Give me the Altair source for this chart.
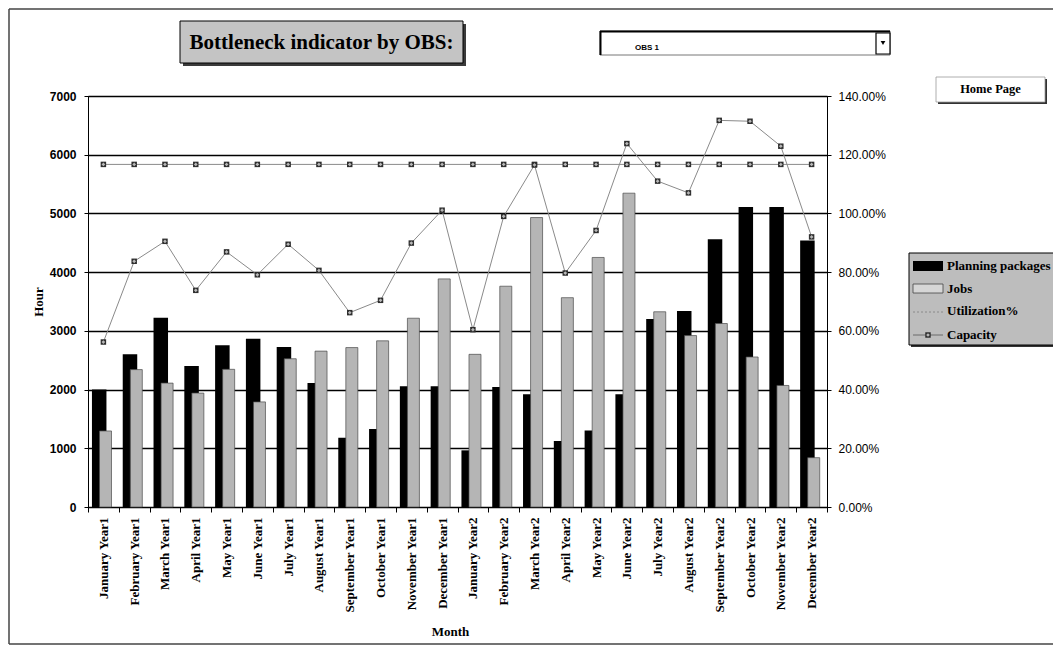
import altair as alt
import pandas as pd

months = ["January Year1", "February Year1", "March Year1", "April Year1", "May Year1",
          "June Year1", "July Year1", "August Year1", "September Year1", "October Year1",
          "November Year1", "December Year1", "January Year2", "February Year2", "March Year2",
          "April Year2", "May Year2", "June Year2", "July Year2", "August Year2",
          "September Year2", "October Year2", "November Year2", "December Year2"]
planning = [2000, 2600, 3225, 2400, 2755, 2865, 2725, 2110, 1180, 1330, 2055, 2055,
            965, 2045, 1920, 1125, 1305, 1920, 3200, 3340, 4560, 5110, 5110, 4540]
jobs = [1295, 2340, 2110, 1940, 2345, 1790, 2525, 2655, 2715, 2830, 3215, 3885,
        2600, 3760, 4930, 3565, 4250, 5345, 3325, 2920, 3125, 2555, 2070, 840]
utilization = [0.562, 0.837, 0.905, 0.738, 0.869, 0.791, 0.895, 0.806, 0.662, 0.704, 0.899, 1.011,
               0.604, 0.990, 1.165, 0.797, 0.942, 1.238, 1.110, 1.070, 1.317, 1.314, 1.229, 0.920]
capacity = [5835, 5835, 5835, 5835, 5835, 5835, 5835, 5835, 5835, 5835, 5835, 5835,
            5835, 5835, 5835, 5835, 5835, 5835, 5835, 5835, 5835, 5835, 5835, 5835]
left_ticks = [0, 1000, 2000, 3000, 4000, 5000, 6000, 7000]
right_ticks = [0, 0.2, 0.4, 0.6, 0.8, 1.0, 1.2, 1.4]
legend_labels = ["Planning packages", "Jobs", "Utilization%", "Capacity"]

df = pd.DataFrame({"month": months, "planning": planning, "jobs": jobs,
                   "util": utilization, "capacity": capacity})

SERIF = "Liberation Serif"
SANS = "Liberation Sans"

xenc = alt.X("month:N", sort=months, title="Month",
             scale=alt.Scale(paddingInner=0, paddingOuter=0),
             axis=alt.Axis(labelAngle=-90, labelFont=SERIF, labelFontWeight="bold",
                           labelFontSize=13, labelPadding=5, tickSize=5, tickBand="extent",
                           domainColor="black", tickColor="black", labelColor="black",
                           grid=False, titleFont=SERIF, titleFontWeight="bold",
                           titleFontSize=13, titleX=362, titleY=124, titleAnchor="middle",
                           titleAlign="center", titleBaseline="middle"))


def lscale():
    return alt.Scale(domain=[0, 7000], nice=False, zero=True)


def rscale():
    return alt.Scale(domain=[0, 1.4], nice=False, zero=True)


base = alt.Chart(df)

black_bars = base.mark_bar(color="black", size=14.5, xOffset=-4.2).encode(
    x=xenc,
    y=alt.Y("planning:Q", scale=lscale(), title="Hour",
            axis=alt.Axis(orient="left", values=left_ticks, format="d", grid=True,
                          gridColor="black", gridWidth=1.3, tickSize=4, labelPadding=8,
                          labelFont=SANS, labelFontSize=12, labelFontWeight="bold",
                          labelColor="black", domainColor="black",
                          tickColor="black", titleFont=SERIF, titleFontWeight="bold",
                          titleFontSize=13, titleColor="black", titlePadding=4)))
gray_bars = base.mark_bar(color="#b5b5b5", stroke="#4a4a4a", strokeWidth=0.7,
                          size=12, xOffset=2.1).encode(
    x=xenc, y=alt.Y("jobs:Q", scale=lscale(), axis=None))
cap_line = base.mark_line(color="#8a8a8a", strokeWidth=1).encode(
    x=xenc, y=alt.Y("capacity:Q", scale=lscale(), axis=None))
cap_pts = base.mark_point(shape="square", filled=True, color="#2e2e2e", size=30, opacity=1).encode(
    x=xenc, y=alt.Y("capacity:Q", scale=lscale(), axis=None))
cap_pts2 = base.mark_point(shape="diamond", filled=True, color="#b8b8b8", size=14, opacity=1).encode(
    x=xenc, y=alt.Y("capacity:Q", scale=lscale(), axis=None))

util_line = base.mark_line(color="#8a8a8a", strokeWidth=1).encode(
    x=xenc,
    y=alt.Y("util:Q", scale=rscale(), title="",
            axis=alt.Axis(orient="right", values=right_ticks, format=".2%", grid=False,
                          tickSize=4, labelPadding=7, labelFont=SANS, labelFontSize=12,
                          labelColor="black", domainColor="black", tickColor="black")))
util_pts = base.mark_point(shape="square", filled=True, color="#2e2e2e", size=30, opacity=1).encode(
    x=xenc, y=alt.Y("util:Q", scale=rscale(), axis=None))
util_pts2 = base.mark_point(shape="diamond", filled=True, color="#b8b8b8", size=14, opacity=1).encode(
    x=xenc, y=alt.Y("util:Q", scale=rscale(), axis=None))

# ---- decorations (pixel positions relative to plot origin) ----
one = pd.DataFrame({"a": [0]})
d = alt.Chart(one)


def rect(x1, x2, y1, y2, fill, stroke=None, sw=0):
    kw = dict(fill=fill)
    if stroke is not None:
        kw.update(stroke=stroke, strokeWidth=sw)
    return d.mark_rect(**kw).encode(x=alt.value(x1), x2=alt.value(x2),
                                    y=alt.value(y1), y2=alt.value(y2))


def text(s, x, y, size, font=SERIF, weight="bold", align="left", color="black"):
    return d.mark_text(font=font, fontSize=size, fontWeight=weight, align=align,
                       baseline="middle", color=color).encode(
        x=alt.value(x), y=alt.value(y), text=alt.value(s))


def hline(x1, x2, y, color, w, dash=None):
    kw = dict(color=color, strokeWidth=w)
    if dash:
        kw["strokeDash"] = dash
    return d.mark_rule(**kw).encode(x=alt.value(x1), x2=alt.value(x2), y=alt.value(y))


deco = []
# outer frame (left, top, bottom)
deco.append(d.mark_rule(color="#444", strokeWidth=1.5).encode(
    x=alt.value(-79), y=alt.value(-87), y2=alt.value(548)))
deco.append(hline(-79, 970, -87, "#444", 1.5))
deco.append(hline(-79, 970, 548, "#444", 1.5))
# title box
deco.append(rect(95, 378, -72, -30, "#3a3a3a"))
deco.append(rect(92, 375, -75, -33, "#c4c4c4", "black", 1))
deco.append(text("Bottleneck indicator by OBS:", 233.5, -53, 21, font="Liberation Serif, Times New Roman, serif", align="center"))
# dropdown
deco.append(rect(512, 802, -65, -41, "white", "#777", 1))
deco.append(hline(512, 802, -64.5, "black", 2))
deco.append(d.mark_rule(color="black", strokeWidth=2).encode(
    x=alt.value(512.5), y=alt.value(-65), y2=alt.value(-41)))
deco.append(rect(788, 802, -63, -42, "white", "black", 1.2))
deco.append(d.mark_point(shape="triangle-down", filled=True, color="black", size=22, opacity=1).encode(
    x=alt.value(795), y=alt.value(-53)))
deco.append(text("OBS 1", 547, -48, 8, font=SANS, weight="bold"))
# home page button
deco.append(rect(850, 959, -17, 8, "#333"))
deco.append(rect(848, 957, -19, 6, "white", "#999", 0.8))
deco.append(text("Home Page", 902.5, -7, 12.5, align="center"))
# legend
deco.append(rect(823, 980, 159, 251, "#333"))
deco.append(rect(821, 978, 157, 249, "#bdbdbd", "black", 1))
deco.append(rect(825, 855, 165, 175, "black"))
deco.append(text(legend_labels[0], 859, 170, 13))
deco.append(rect(825, 855, 188, 197, "#d6d6d6", "#444", 0.8))
deco.append(text(legend_labels[1], 859, 193, 13))
deco.append(hline(825, 855, 216, "#8a8a8a", 1, [2, 2]))
deco.append(text(legend_labels[2], 859, 215, 13))
deco.append(hline(825, 855, 239, "#6a6a6a", 1))
deco.append(d.mark_point(shape="square", filled=True, color="#2e2e2e", size=30, opacity=1).encode(
    x=alt.value(840), y=alt.value(239)))
deco.append(d.mark_point(shape="diamond", filled=True, color="#b8b8b8", size=14, opacity=1).encode(
    x=alt.value(840), y=alt.value(239)))
deco.append(text(legend_labels[3], 859, 239, 13))

chart = alt.layer(black_bars, util_line, gray_bars, cap_line, cap_pts, cap_pts2,
                  util_pts, util_pts2, *deco).resolve_scale(y="independent").properties(
    width=739, height=411,
    padding={"left": 80, "top": 88, "right": 226, "bottom": 138},
    autosize=alt.AutoSizeParams(type="none"),
    background="white",
).configure_view(stroke="black", strokeWidth=1)

chart.save("out.html", embed_options={"renderer": "svg", "actions": False})
